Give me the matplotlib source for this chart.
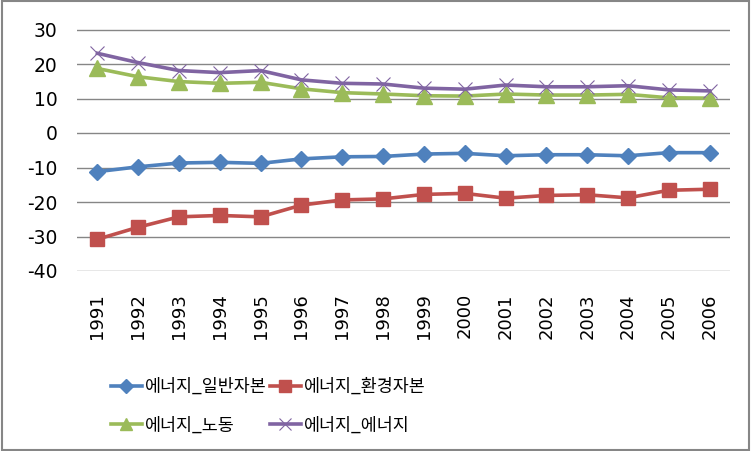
import matplotlib.pyplot as plt
from matplotlib.patches import Rectangle

plt.rcParams['font.family'] = ['Noto Sans CJK KR', 'DejaVu Sans']

years = [str(y) for y in range(1991, 2007)]
general_capital = [-11.2, -9.8, -8.7, -8.5, -8.8, -7.5, -6.9, -6.8, -6.1, -5.9,
                   -6.6, -6.3, -6.3, -6.6, -5.7, -5.7]
env_capital = [-30.8, -27.3, -24.3, -23.9, -24.3, -20.9, -19.4, -19.1, -17.8, -17.5,
               -18.9, -18.1, -17.9, -18.8, -16.6, -16.3]
labour = [18.7, 16.3, 14.9, 14.4, 14.7, 12.8, 11.7, 11.3, 10.8, 10.7,
          11.3, 11.0, 11.0, 11.2, 10.2, 10.1]
energy = [23.1, 20.4, 18.1, 17.5, 18.1, 15.4, 14.4, 14.2, 13.0, 12.7,
          13.9, 13.4, 13.4, 13.7, 12.5, 12.2]
yticks = [-40, -30, -20, -10, 0, 10, 20, 30]

W, H = 753, 451
fig = plt.figure(figsize=(W / 100, H / 100), dpi=100)
ax = fig.add_axes([77 / W, 1 - 271 / H, (730 - 77) / W, (271 - 29.5) / H])

x = range(len(years))
lw = 2.6
l1, = ax.plot(x, general_capital, color='#4F81BD', lw=lw, marker='D', ms=8,
              label='에너지_일반자본')
l2, = ax.plot(x, env_capital, color='#C0504D', lw=lw, marker='s', ms=10,
              label='에너지_환경자본')
l3, = ax.plot(x, labour, color='#9BBB59', lw=lw, marker='^', ms=11,
              label='에너지_노동')
l4, = ax.plot(x, energy, color='#8064A2', lw=lw, marker='x', ms=10, mew=0.8,
              label='에너지_에너지')

ax.set_xlim(-0.5, len(years) - 0.5)
ax.set_ylim(-40, 30)
ax.set_yticks(yticks)
ax.set_yticklabels([str(v) for v in yticks], fontsize=13.5, family='DejaVu Sans')
ax.set_xticks(list(x))
ax.set_xticklabels(years, rotation=90, fontsize=13, family='DejaVu Sans')
ax.tick_params(axis='x', length=0, pad=16)
ax.tick_params(axis='y', length=0, pad=14)
ax.grid(axis='y', color='#868686', lw=1)
ax.set_axisbelow(True)
for s in ax.spines.values():
    s.set_visible(False)

fig.legend([l1, l3, l2, l4], [l1.get_label(), l3.get_label(), l2.get_label(), l4.get_label()],
           ncol=2, loc='center', bbox_to_anchor=(268 / W, 1 - 406 / H),
           frameon=False, fontsize=12.5, handlelength=1.8, columnspacing=0.2,
           handletextpad=0.15, labelspacing=1.2, markerscale=0.85)

fig.patches.append(Rectangle((0.002, 0.003), 0.993, 0.994, transform=fig.transFigure,
                             fill=False, edgecolor='#868686', lw=1.5))

fig.savefig('out.png', dpi=100)
